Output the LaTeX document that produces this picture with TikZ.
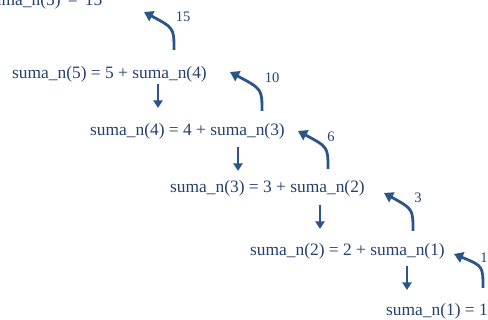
\documentclass[tikz,border=0pt]{standalone}
\usepackage{fontspec}
\setmainfont{Liberation Serif}
\usetikzlibrary{arrows.meta,calc}
\definecolor{txtblue}{HTML}{24406E}
\definecolor{arrblue}{HTML}{2B5588}
\begin{document}
\begin{tikzpicture}[x=1pt,y=-1pt,
  eq/.style={inner sep=0pt,text=txtblue,font=\fontsize{17.4}{19}\selectfont,anchor=base west},
  num/.style={inner sep=0pt,text=txtblue,font=\fontsize{14.5}{16}\selectfont},
  down/.style={draw=arrblue,line width=1.8pt,-{Triangle[width=9pt,length=7.5pt]}},
  back/.style={draw=arrblue,line width=2.8pt,-{Triangle[width=11pt,length=9pt]}}]
\useasboundingbox (0,0) rectangle (488,320);
\clip (0,0) rectangle (488,320);
\node[eq] (t0) at (-14,6) {suma\_n(5)\, =\, 15};
\node[eq] (t1) at (12,79) {suma\_n(5) = 5 + suma\_n(4)};
\node[eq] (t2) at (90,136) {suma\_n(4) = 4 + suma\_n(3)};
\node[eq] (t3) at (170,193) {suma\_n(3) = 3 + suma\_n(2)};
\node[eq] (t4) at (250,256) {suma\_n(2) = 2 + suma\_n(1)};
\node[eq] (t5) at (386,316) {suma\_n(1) = 1};
% down arrows
\coordinate (d1a) at (158,84); \coordinate (d1b) at (158,108);
\coordinate (d2a) at (238,147); \coordinate (d2b) at (238,171);
\coordinate (d3a) at (320,205); \coordinate (d3b) at (320,229);
\coordinate (d4a) at (407,266); \coordinate (d4b) at (407,290);
\draw[down] (d1a) -- (d1b);
\draw[down] (d2a) -- (d2b);
\draw[down] (d3a) -- (d3b);
\draw[down] (d4a) -- (d4b);
% back arrows
\coordinate (b1a) at (174,50); \coordinate (b1b) at (144,12);
\coordinate (b2a) at (262,111); \coordinate (b2b) at (230,72);
\coordinate (b3a) at (328,169); \coordinate (b3b) at (298,131);
\coordinate (b4a) at (413,231); \coordinate (b4b) at (384,193);
\coordinate (b5a) at (483,288); \coordinate (b5b) at (454,254);
\foreach \i in {1,...,5}{
  \draw[back] (b\i a) .. controls ($(b\i a)+(0,-22)$) .. (b\i b);
}
\node[num] (l1) at (183,17) {15};
\node[num] (l2) at (272,78) {10};
\node[num] (l3) at (331,137) {6};
\node[num] (l4) at (418,198) {3};
\node[num] (l5) at (484,258) {1};
\end{tikzpicture}
\end{document}
